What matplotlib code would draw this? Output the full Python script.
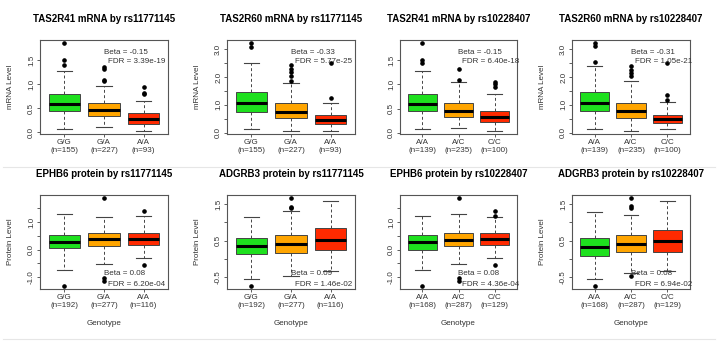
import matplotlib
matplotlib.use("Agg")
import matplotlib.pyplot as plt

plt.rcParams['font.family'] = ['Liberation Sans', 'DejaVu Sans']

# --- data ---
titles = ["TAS2R41 mRNA by rs11771145", "TAS2R60 mRNA by rs11771145",
          "TAS2R41 mRNA by rs10228407", "TAS2R60 mRNA by rs10228407",
          "EPHB6 protein by rs11771145", "ADGRB3 protein by rs11771145",
          "EPHB6 protein by rs10228407", "ADGRB3 protein by rs10228407"]

geno_a = ["G/G", "G/A", "A/A"]
geno_b = ["A/A", "A/C", "C/C"]
n_mrna_a = [155, 227, 93]
n_mrna_b = [139, 235, 100]
n_prot_a = [192, 277, 116]
n_prot_b = [168, 287, 129]

beta = ["-0.15", "-0.33", "-0.15", "-0.31", "0.08", "0.09", "0.08", "0.08"]
fdr = ["3.39e-19", "5.77e-25", "6.40e-18", "1.05e-21",
       "6.20e-04", "1.46e-02", "4.36e-04", "6.94e-02"]

# per group: whisker low, q1, median, q3, whisker high, outliers
p1 = [(0.08, 0.44, 0.58, 0.80, 1.28, [1.40, 1.50, 1.84]),
      (0.12, 0.34, 0.46, 0.61, 0.97, [1.06, 1.09, 1.32, 1.36]),
      (0.04, 0.18, 0.28, 0.41, 0.65, [0.79, 0.82, 0.95])]
p2 = [(0.15, 0.74, 1.05, 1.46, 2.50, [3.08, 3.20]),
      (0.08, 0.54, 0.75, 1.05, 1.79, [1.87, 2.05, 2.18, 2.30, 2.42]),
      (0.08, 0.32, 0.46, 0.65, 1.07, [1.25, 2.50])]
p3 = [(0.08, 0.45, 0.60, 0.80, 1.28, [1.43, 1.51, 1.84]),
      (0.11, 0.32, 0.46, 0.61, 1.05, [1.09, 1.32]),
      (0.05, 0.22, 0.33, 0.46, 0.80, [0.95, 1.00, 1.05])]
p4 = [(0.15, 0.77, 1.05, 1.46, 2.40, [2.52, 3.10, 3.20]),
      (0.08, 0.54, 0.77, 1.07, 1.85, [2.02, 2.14, 2.26, 2.40]),
      (0.14, 0.36, 0.51, 0.65, 1.11, [1.19, 1.37, 2.50])]
p5 = [(-0.72, 0.05, 0.28, 0.54, 1.29, [-1.30]),
      (-0.52, 0.14, 0.38, 0.60, 1.19, [-1.12, -1.04, 1.86]),
      (-0.31, 0.17, 0.38, 0.60, 1.22, [-0.55, 1.41])]
p6 = [(-0.55, 0.14, 0.34, 0.57, 1.15, [-0.73]),
      (-0.47, 0.16, 0.41, 0.64, 1.31, [1.38, 1.43, 1.65]),
      (-0.34, 0.25, 0.51, 0.84, 1.59, [])]
p7 = [(-0.72, 0.00, 0.29, 0.53, 1.23, [-1.30]),
      (-0.52, 0.12, 0.37, 0.60, 1.30, [-1.12, -1.04, 1.86]),
      (-0.31, 0.17, 0.38, 0.59, 1.17, [-0.55, 1.24, 1.41])]
p8 = [(-0.55, 0.09, 0.32, 0.56, 1.27, [-0.73]),
      (-0.39, 0.20, 0.41, 0.65, 1.21, [-0.47, 1.38, 1.45, 1.65]),
      (-0.34, 0.18, 0.48, 0.79, 1.59, [])]
panels = [p1, p2, p3, p4, p5, p6, p7, p8]

yticks_all = [[0.0, 0.5, 1.0, 1.5], [0.0, 0.5, 1.0, 1.5, 2.0, 2.5, 3.0],
              [0.0, 0.5, 1.0, 1.5], [0.0, 0.5, 1.0, 1.5, 2.0, 2.5, 3.0],
              [-1.0, -0.5, 0.0, 0.5, 1.0, 1.5], [-0.5, 0.0, 0.5, 1.0, 1.5],
              [-1.0, -0.5, 0.0, 0.5, 1.0, 1.5], [-0.5, 0.0, 0.5, 1.0, 1.5]]
ylabeled = [[0.0, 0.5, 1.0, 1.5], [0.0, 1.0, 2.0, 3.0],
            [0.0, 0.5, 1.0, 1.5], [0.0, 1.0, 2.0, 3.0],
            [-1.0, 0.0, 1.0], [-0.5, 0.5, 1.5],
            [-1.0, 0.0, 1.0], [-0.5, 0.5, 1.5]]

cols = ["#1ee01e", "#ffa500", "#ff2a00"]

# frame positions in pixels (x0, x1) and rows (y0, y1), y from top
xs = [(40, 168), (227, 355), (400, 517), (572, 690)]
rows = [(40, 134), (195, 289)]
W, H = 720, 344
fs = 5.8

fig = plt.figure(figsize=(7.2, 3.44), dpi=100)

for i in range(8):
    r, c = divmod(i, 4)
    x0, x1 = xs[c]
    y0, y1 = rows[r]
    ax = fig.add_axes([x0 / W, (H - y1) / H, (x1 - x0) / W, (y1 - y0) / H])

    stats = []
    allv = []
    for lo, q1, med, q3, hi, fl in panels[i]:
        stats.append(dict(whislo=lo, q1=q1, med=med, q3=q3, whishi=hi, fliers=fl))
        allv += [lo, hi] + fl
    bp = ax.bxp(stats, positions=[1, 2, 3], widths=0.8, capwidths=0.4,
                patch_artist=True,
                boxprops=dict(edgecolor="#444444", linewidth=0.7),
                whiskerprops=dict(color="#444444", linewidth=0.7, linestyle=(0, (3, 2.5))),
                capprops=dict(color="#444444", linewidth=0.8),
                medianprops=dict(color="black", linewidth=2.2),
                flierprops=dict(marker="o", markersize=2.3, markerfacecolor="black",
                                markeredgecolor="black", linestyle="none"))
    for patch, col in zip(bp["boxes"], cols):
        patch.set_facecolor(col)

    lo_y, hi_y = min(allv), max(allv)
    pad = (hi_y - lo_y) * 0.04
    ax.set_ylim(lo_y - pad, hi_y + pad)
    ax.set_xlim(0.38, 3.62)

    ax.set_yticks(yticks_all[i])
    ax.set_yticklabels(["%.1f" % v if v in ylabeled[i] else "" for v in yticks_all[i]],
                       rotation=90, va="center", fontsize=fs, color="#333333")

    if r == 0:
        ns = n_mrna_a if c < 2 else n_mrna_b
    else:
        ns = n_prot_a if c < 2 else n_prot_b
    g = geno_a if c < 2 else geno_b
    ax.set_xticks([1, 2, 3])
    ax.set_xticklabels(["%s\n(n=%d)" % (a, n) for a, n in zip(g, ns)],
                       fontsize=fs, color="#333333", linespacing=1.2)
    ax.tick_params(axis="both", length=2.5, width=0.6, color="#444444", pad=1)

    for s in ax.spines.values():
        s.set_color("#555555")
        s.set_linewidth(0.8)

    ax.set_title(titles[i], fontsize=7.0, fontweight="bold", pad=13)

    if c != 2:
        ax.set_ylabel("mRNA Level" if r == 0 else "Protein Level", fontsize=fs,
                      color="#333333")
        ax.yaxis.set_label_coords(-26.0 / (x1 - x0), 0.5)
    if r == 1:
        ax.set_xlabel("Genotype", fontsize=fs, color="#333333")
        ax.xaxis.set_label_coords(0.5, -31.0 / (y1 - y0))

    if r == 0:
        ax.text(0.50, 0.87, "Beta = " + beta[i], transform=ax.transAxes,
                fontsize=fs, va="center", ha="left", color="#333333")
        ax.text(0.53, 0.77, "FDR = " + fdr[i], transform=ax.transAxes,
                fontsize=fs, va="center", ha="left", color="#333333")
    else:
        ax.text(0.50, 0.16, "Beta = " + beta[i], transform=ax.transAxes,
                fontsize=fs, va="center", ha="left", color="#333333")
        ax.text(0.53, 0.05, "FDR = " + fdr[i], transform=ax.transAxes,
                fontsize=fs, va="center", ha="left", color="#333333")

# faint separators between the rows
for yy in [167, 339]:
    fig.add_artist(plt.Line2D([3 / W, 715 / W], [(H - yy) / H] * 2,
                              color="#e6e6e6", linewidth=0.8))

fig.savefig("out.png", dpi=100)
